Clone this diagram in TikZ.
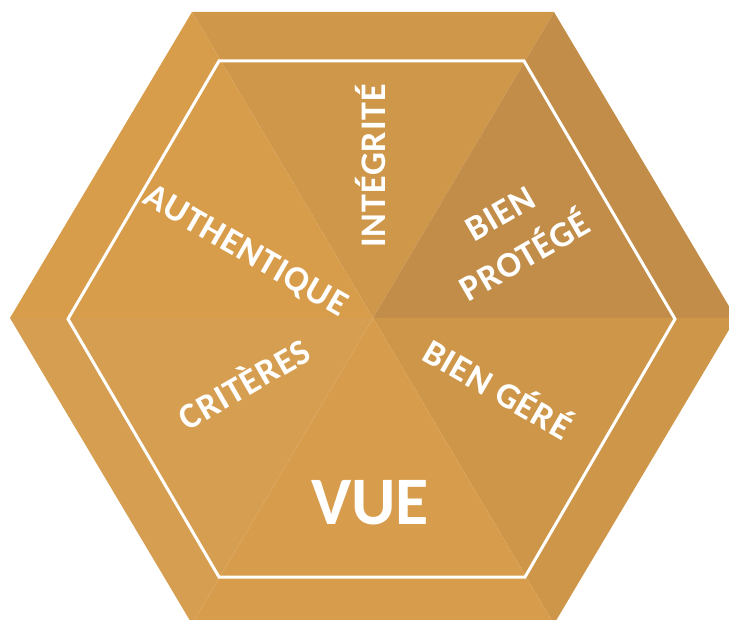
\documentclass[tikz,border=0pt]{standalone}
\usepackage{fontspec}
\newfontfamily\lblfont{Carlito}[LetterSpace=2.5]
\newfontfamily\vuefont{Carlito}
\definecolor{secT}{HTML}{CF974A}
\definecolor{secTR}{HTML}{C28D49}
\definecolor{secBR}{HTML}{CE9649}
\definecolor{secB}{HTML}{D89D4C}
\definecolor{secBL}{HTML}{D69E51}
\definecolor{secTL}{HTML}{D89D4B}
\tikzset{
  lbl/.style={text=white, inner sep=0pt, font=\lblfont\bfseries\fontsize{36}{42}\selectfont, text height=23pt, text depth=0pt},
  innerhex/.style={draw=white, line width=3pt, line join=miter}
}
\begin{document}
\begin{tikzpicture}[x=1pt,y=-1pt]
\useasboundingbox (0,0) rectangle (729,620);
\clip (0,0) rectangle (729,620);
\coordinate (C) at (373,318);
\coordinate (L) at (10,318);
\coordinate (R) at (736,318);
\coordinate (TL) at (192,12);
\coordinate (TR) at (554,12);
\coordinate (BL) at (192,624);
\coordinate (BR) at (554,624);
\fill[secT] (C) -- (TL) -- (TR) -- cycle;
\fill[secTR] (C) -- (TR) -- (R) -- cycle;
\fill[secBR] (C) -- (R) -- (BR) -- cycle;
\fill[secB] (C) -- (BR) -- (BL) -- cycle;
\fill[secBL] (C) -- (BL) -- (L) -- cycle;
\fill[secTL] (C) -- (L) -- (TL) -- cycle;
\coordinate (iL) at (68,319);
\coordinate (iR) at (675,319);
\coordinate (iTL) at (219,61);
\coordinate (iTR) at (524,61);
\coordinate (iBL) at (219,577);
\coordinate (iBR) at (525,577);
\draw[innerhex] (iL) -- (iTL) -- (iTR) -- (iR) -- (iBR) -- (iBL) -- cycle;
\node[lbl, rotate=90] (integ) at (374,166) {INTÉGRITÉ};
\node[lbl, rotate=-30] (auth) at (246,250) {AUTHENTIQUE};
\node[text=white, inner sep=0pt, rotate=30, align=center, font=\lblfont\bfseries\fontsize{36}{49}\selectfont] (prot) at (513,235) {BIEN\\PROTÉGÉ};
\node[lbl, rotate=30] (crit) at (245,385) {CRITÈRES};
\node[lbl, rotate=-30] (gere) at (497,390) {BIEN GÉRÉ};
\node[text=white, inner sep=0pt, font=\vuefont\bfseries\fontsize{68}{80}\selectfont, text height=44pt, text depth=0pt] (vue) at (370,502) {VUE};
\end{tikzpicture}
\end{document}
